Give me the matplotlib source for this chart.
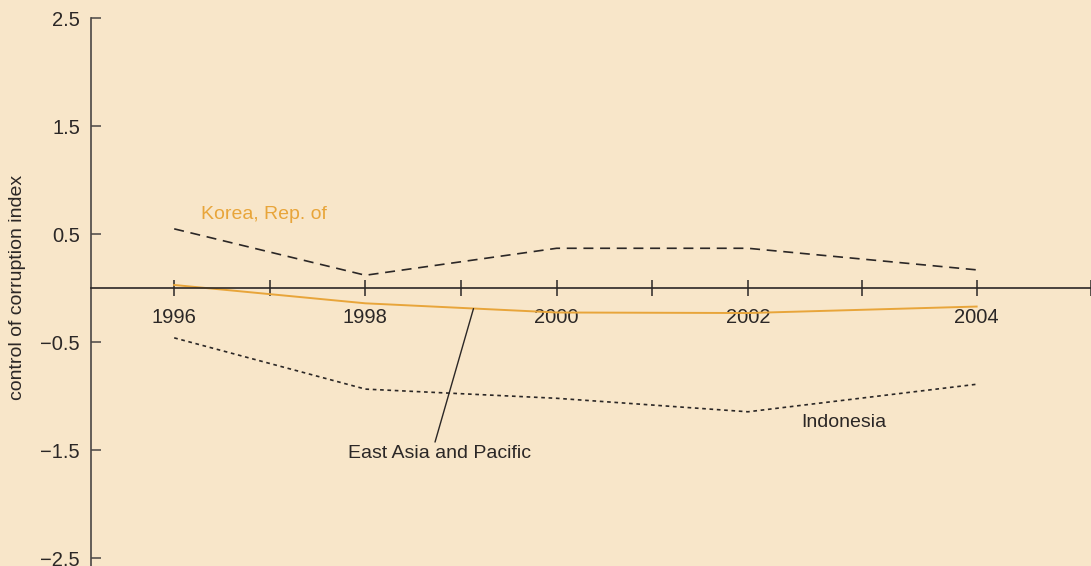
import numpy as np
import matplotlib
matplotlib.use("Agg")
import matplotlib.pyplot as plt
from matplotlib import font_manager

years = [1996, 1998, 2000, 2002, 2004]
korea = [0.55, 0.12, 0.37, 0.37, 0.17]
east_asia = [0.03, -0.14, -0.225, -0.23, -0.17]
indonesia = [-0.46, -0.935, -1.02, -1.145, -0.89]

ytick_vals = [2.5, 1.5, 0.5, -0.5, -1.5, -2.5]
ytick_labels = ["2.5", "1.5", "0.5", "\u22120.5", "\u22121.5", "\u22122.5"]
xtick_years = list(range(1996, 2006))
xtick_labels = [str(y) if (y % 2 == 0 and y <= 2004) else "" for y in xtick_years]

names = {f.name for f in font_manager.fontManager.ttflist}
FONT = "Liberation Sans Narrow" if "Liberation Sans Narrow" in names else "Liberation Sans"
plt.rcParams["font.family"] = [FONT, "DejaVu Sans"]

BG = "#F8E6C9"
ORANGE = "#E8A53A"
DARK = "#2B2726"

K = 1.196  # wider spacing after 2002 in the original


def fwd(x):
    x = np.asarray(x, dtype=float)
    return np.where(x <= 2002, x, 2002 + (x - 2002) * K)


def inv(x):
    x = np.asarray(x, dtype=float)
    return np.where(x <= 2002, x, 2002 + (x - 2002) / K)


fig = plt.figure(figsize=(10.91, 5.66), dpi=100, facecolor=BG)
ax = fig.add_axes([91 / 1091, 0.0, 1000 / 1091, 547.6 / 566])
ax.set_facecolor(BG)
ax.set_xscale("function", functions=(fwd, inv))
ax.set_xlim(1995.13, 2005.0)
ax.set_ylim(-2.574, 2.5)

ax.plot(years, korea, color=DARK, lw=1.2, dashes=(6, 4))
ax.plot(years, indonesia, color=DARK, lw=1.2, dashes=(2.2, 2.2))
ax.plot(years, east_asia, color=ORANGE, lw=1.4)

for s in ["top", "right"]:
    ax.spines[s].set_visible(False)
ax.spines["bottom"].set_position(("data", 0))
ax.spines["bottom"].set_color(DARK)
ax.spines["bottom"].set_linewidth(1.2)
ax.spines["left"].set_color("#4a4644")
ax.spines["left"].set_linewidth(1.2)

ax.set_yticks(ytick_vals)
ax.set_yticklabels(ytick_labels)
ax.tick_params(axis="y", direction="in", length=7, width=1.1, color="#4a4644",
               pad=8, labelsize=14.5, labelcolor=DARK)
ax.set_xticks(xtick_years)
ax.set_xticklabels(xtick_labels)
ax.minorticks_off()
ax.tick_params(axis="x", direction="inout", length=12, width=1.1, color=DARK,
               pad=8, labelsize=14.5, labelcolor=DARK)

fig.text(18 / 1091, 1 - 287 / 566, "control of corruption index", rotation=90,
         ha="center", va="center", fontsize=14, color=DARK)

ax.text(1996.28, 0.68, "Korea, Rep. of", color=ORANGE, fontsize=14,
        ha="left", va="center")
ax.text(2002.47, -1.243, "Indonesia", color=DARK, fontsize=14,
        ha="left", va="center")
ax.annotate("East Asia and Pacific", xy=(1999.13, -0.189), xytext=(1997.82, -1.53),
            color=DARK, fontsize=14, ha="left", va="center",
            arrowprops=dict(arrowstyle="-", color=DARK, lw=1.0,
                            shrinkA=0, shrinkB=0,
                            relpos=(0.47, 1.0)))

fig.savefig("out.png", dpi=100, facecolor=BG)
